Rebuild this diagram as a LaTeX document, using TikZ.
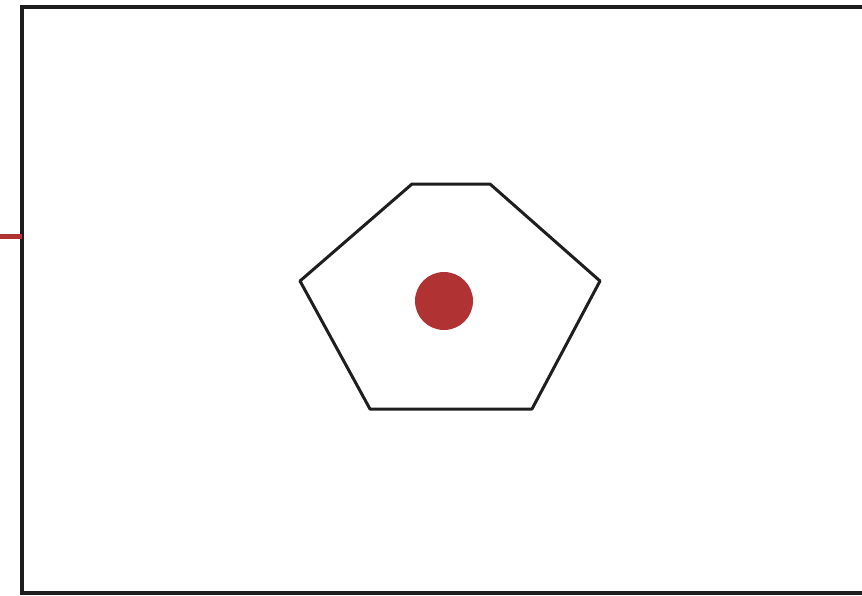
\documentclass[tikz,border=0pt]{standalone}
\usetikzlibrary{positioning}
\definecolor{cdark}{HTML}{1E1E1E}
\definecolor{cred}{HTML}{B03232}
\tikzset{
  every picture/.style={x=1pt, y=-1pt},
  frame/.style={draw=cdark, line width=3.5pt},
  cell/.style={draw=cdark, line width=3pt, line join=round},
  dot/.style={circle, fill=cred, inner sep=0pt, minimum size=58pt},
  lead/.style={draw=cred, line width=5pt},
}
\begin{document}
\begin{tikzpicture}
  \useasboundingbox (0,0) rectangle (862,595);
  % outer frame, right side runs off the picture
  \draw[frame] (880,7) -- (22,7) -- (22,593) -- (880,593);
  \coordinate (fl) at (22,236);
  \coordinate (lo) at (0,236);
  \draw[lead] (lo) -- (fl);
  % pentagon-like cell
  \draw[cell] (412,184) -- (490,184) -- (600,281) -- (532,409) -- (370,409) -- (300,281) -- cycle;
  \node[dot] (core) at (444,301) {};
\end{tikzpicture}
\end{document}
